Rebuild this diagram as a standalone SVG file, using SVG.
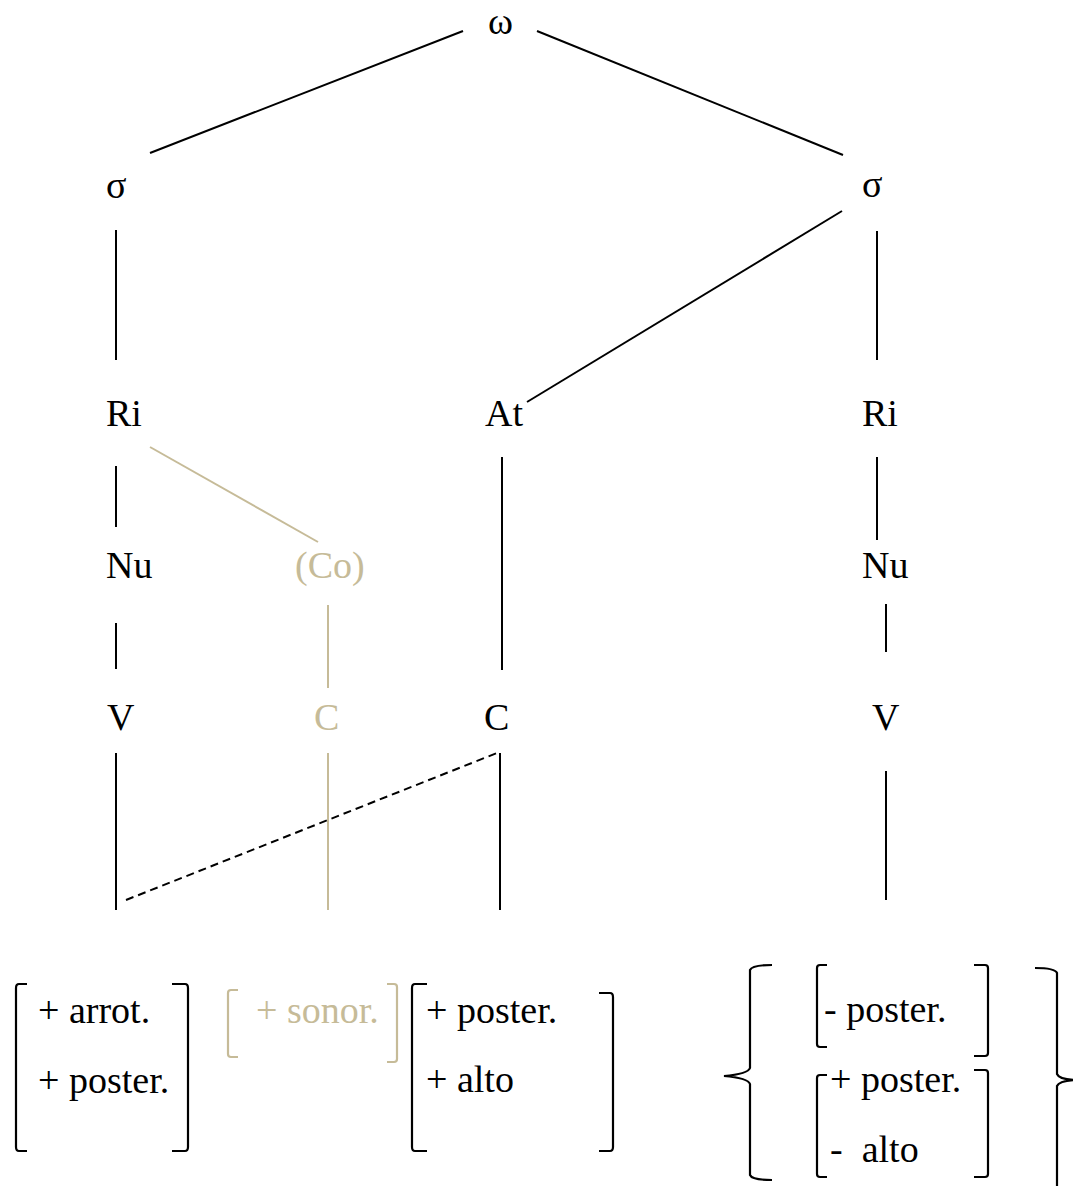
<svg xmlns="http://www.w3.org/2000/svg" width="1073" height="1186" viewBox="0 0 1073 1186">
<style>
  text { font-family: "Liberation Serif", "Times New Roman", serif; font-size: 38px; fill: #000; white-space: pre; }
  text.tan { fill: #c6bb98; }
  .ln { stroke: #000; stroke-width: 2; fill: none; }
  .tl { stroke: #c6bb98; stroke-width: 2; fill: none; }
  .dash { stroke: #000; stroke-width: 2; stroke-dasharray: 8 5; fill: none; }
  .br { stroke: #000; stroke-width: 2.2; fill: none; }
  .brt { stroke: #c6bb98; stroke-width: 2.2; fill: none; }
</style>
<rect width="1073" height="1186" fill="#fff"/>
<g id="connectors">
  <line class="ln" x1="463" y1="31" x2="150" y2="153"/>
  <line class="ln" x1="537" y1="31" x2="843" y2="155"/>
  <line class="ln" x1="116" y1="230" x2="116" y2="360"/>
  <line class="ln" x1="842" y1="211" x2="527" y2="402"/>
  <line class="ln" x1="877" y1="231" x2="877" y2="360"/>
  <line class="ln" x1="116" y1="466" x2="116" y2="527"/>
  <line class="tl" x1="150" y1="447" x2="318" y2="542"/>
  <line class="ln" x1="502" y1="457" x2="502" y2="670"/>
  <line class="ln" x1="877" y1="457" x2="877" y2="540"/>
  <line class="ln" x1="116" y1="623" x2="116" y2="669"/>
  <line class="tl" x1="328" y1="605" x2="328" y2="688"/>
  <line class="ln" x1="886" y1="604" x2="886" y2="652"/>
  <line class="ln" x1="116" y1="753" x2="116" y2="910"/>
  <line class="tl" x1="328" y1="753" x2="328" y2="910"/>
  <line class="ln" x1="500" y1="753" x2="500" y2="910"/>
  <line class="ln" x1="886" y1="771" x2="886" y2="900"/>
  <line class="dash" x1="126" y1="900" x2="497" y2="753"/>
</g>
<g id="n-omega"><text x="488" y="34">ω</text></g>
<g id="n-sigma1"><text x="106" y="198">σ</text></g>
<g id="n-sigma2"><text x="862" y="197">σ</text></g>
<g id="n-ri1"><text x="106" y="426">Ri</text></g>
<g id="n-at"><text x="485" y="426">At</text></g>
<g id="n-ri2"><text x="862" y="426">Ri</text></g>
<g id="n-nu1"><text x="106" y="578">Nu</text></g>
<g id="n-co"><text class="tan" x="295" y="578">(Co)</text></g>
<g id="n-nu2"><text x="862" y="578">Nu</text></g>
<g id="n-v1"><text x="107" y="730">V</text></g>
<g id="n-c1"><text class="tan" x="314" y="730">C</text></g>
<g id="n-c2"><text x="484" y="730">C</text></g>
<g id="n-v2"><text x="872" y="730">V</text></g>
<g id="m-arrot">
  <path class="br" d="M27,984 H19 Q16,984 16,988 V1147 Q16,1151 19,1151 H27"/>
  <path class="br" d="M172,984 H185 Q188,984 188,988 V1147 Q188,1151 185,1151 H172"/>
  <text x="38" y="1023">+ arrot.</text>
  <text x="38" y="1093">+ poster.</text>
</g>
<g id="m-sonor">
  <path class="brt" d="M238,990 H231 Q228,990 228,993 V1054 Q228,1057 231,1057 H238"/>
  <path class="brt" d="M387,984 H394 Q397,984 397,987 V1059 Q397,1062 394,1062 H387"/>
  <text class="tan" x="256" y="1023">+ sonor.</text>
</g>
<g id="m-alto">
  <path class="br" d="M427,984 H415 Q412,984 412,988 V1147 Q412,1151 415,1151 H427"/>
  <path class="br" d="M599,993 H610 Q613,993 613,997 V1147 Q613,1151 610,1151 H599"/>
  <text x="426" y="1023">+ poster.</text>
  <text x="426" y="1092">+ alto</text>
</g>
<g id="m-set">
  <path class="br" d="M772,965 Q752,965 750,970 V1068 Q748,1074 724,1076 Q748,1078 750,1084 V1175 Q752,1180 772,1180"/>
  <path class="br" d="M827,965 H820 Q817,965 817,968 V1044 Q817,1047 820,1047 H827"/>
  <path class="br" d="M974,965 H985 Q988,965 988,968 V1053 Q988,1056 985,1056 H974"/>
  <text x="824" y="1022">- poster.</text>
  <path class="br" d="M827,1075 H820 Q817,1075 817,1078 V1174 Q817,1177 820,1177 H827"/>
  <path class="br" d="M974,1070 H985 Q988,1070 988,1073 V1174 Q988,1177 985,1177 H974"/>
  <text x="830" y="1092">+ poster.</text>
  <text x="830" y="1162">-  alto</text>
  <path class="br" d="M1035,968 Q1055,968 1057,973 V1074 Q1059,1079 1074,1080 Q1059,1081 1057,1086 V1190"/>
</g>
</svg>
